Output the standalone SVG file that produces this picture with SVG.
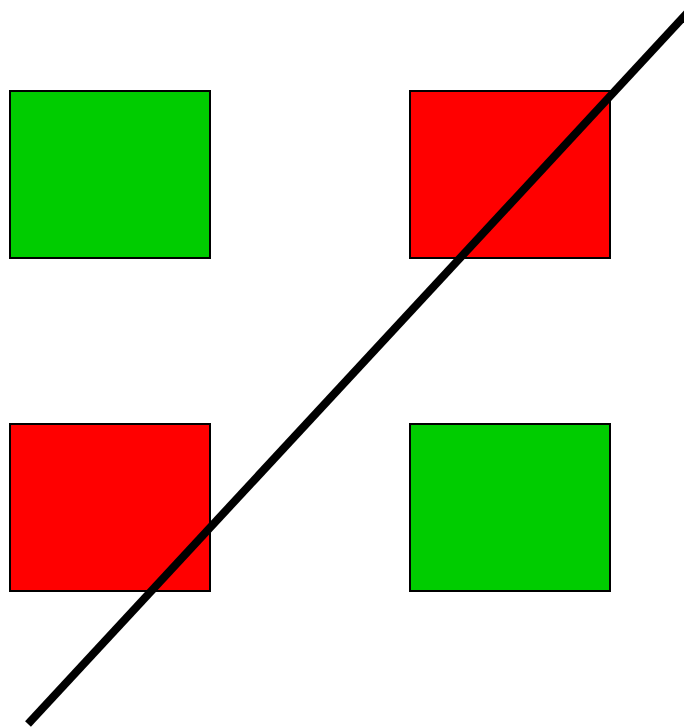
<svg xmlns="http://www.w3.org/2000/svg" width="684" height="728" viewBox="0 0 684 728">
<style>
.box{stroke:#000;stroke-width:2}
.g{fill:#00cc00}
.r{fill:#ff0000}
</style>
<rect width="684" height="728" fill="#fff"/>
<g id="box-tl"><rect class="box g" x="10" y="91" width="200" height="167"/></g>
<g id="box-tr"><rect class="box r" x="410" y="91" width="200" height="167"/></g>
<g id="box-bl"><rect class="box r" x="10" y="424" width="200" height="167"/></g>
<g id="box-br"><rect class="box g" x="410" y="424" width="200" height="167"/></g>
<g id="connectors"><line x1="28" y1="724" x2="690" y2="10" stroke="#000" stroke-width="8"/></g>
</svg>
